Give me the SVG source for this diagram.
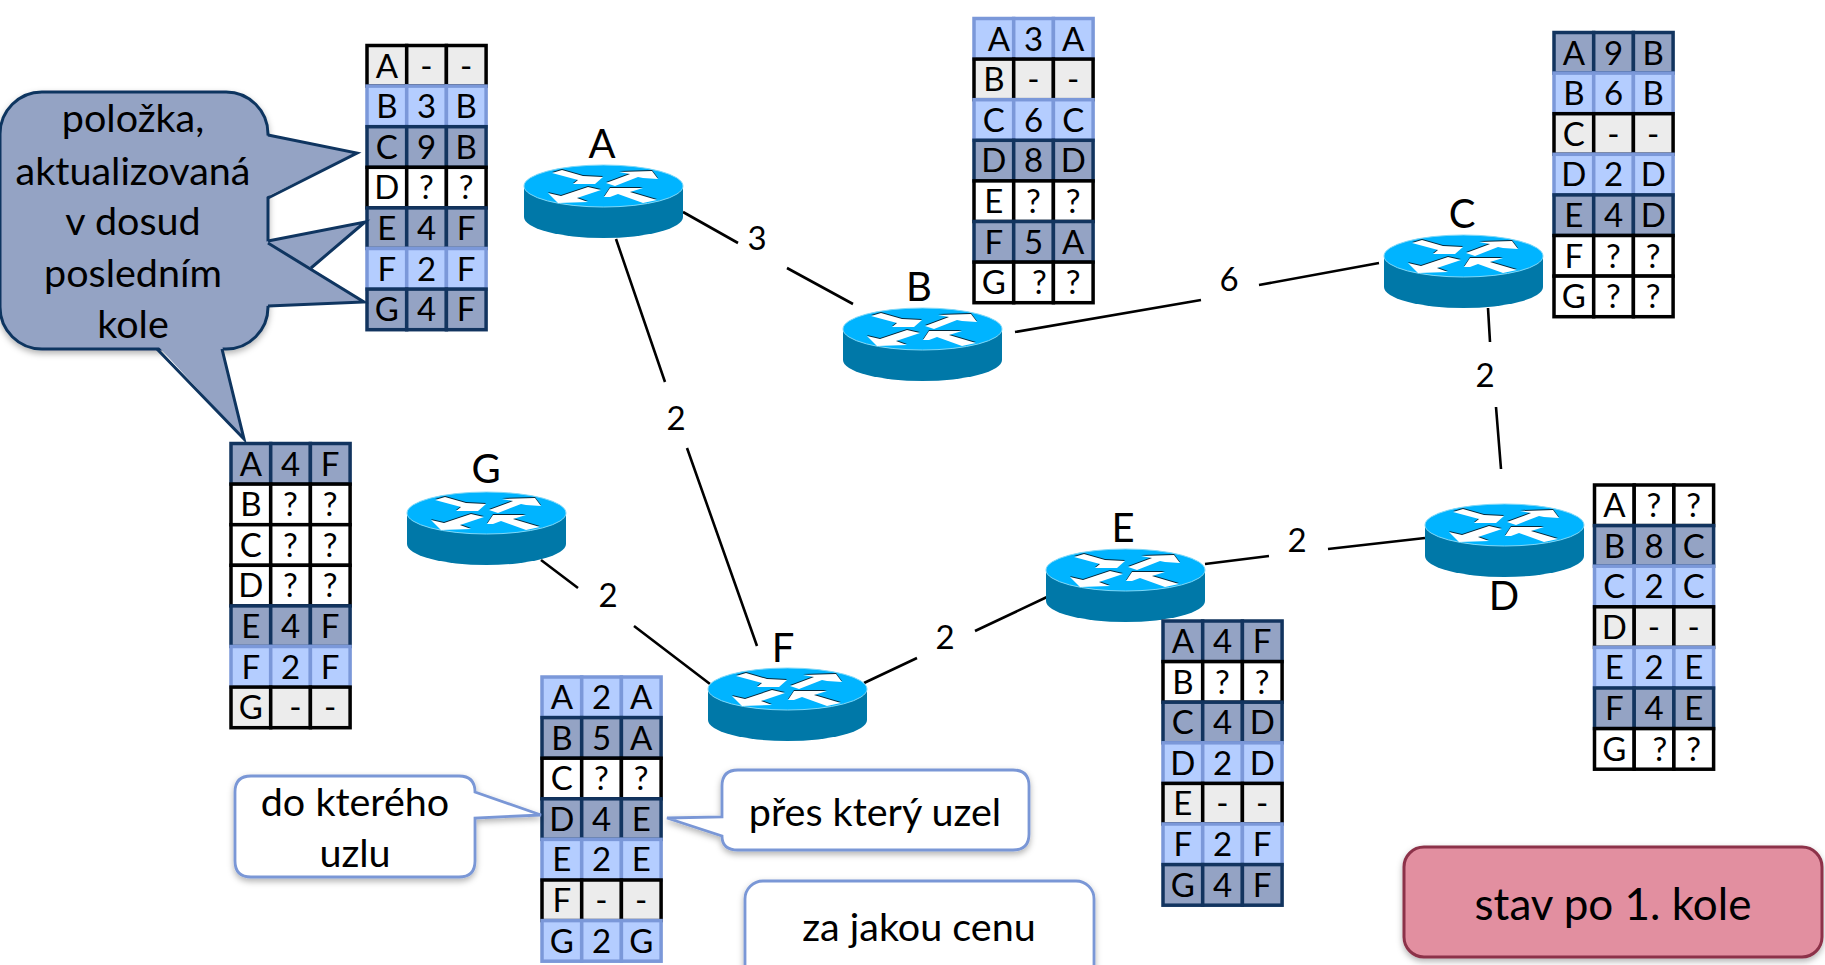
<svg xmlns="http://www.w3.org/2000/svg" width="1825" height="965" viewBox="0 0 1825 965">
<style>
text{font-family:"Lato","Liberation Sans",sans-serif;fill:#000;text-anchor:middle}
.t{font-size:33px}
.rl{font-size:40px}
.el{font-size:33px}
.co{font-size:39.5px}
.wc{font-size:39.5px}
.edge{stroke:#000;stroke-width:2.6;fill:none}
.w{fill:#fff;stroke:#000;stroke-width:3.5}
.g{fill:#ececec;stroke:#000;stroke-width:3.5}
.l{fill:#b4cdff;stroke:#7b98d9;stroke-width:3.5}
.d{fill:#94a3c4;stroke:#12345f;stroke-width:3.5}
.wbox{fill:#fff;stroke:#7a97d6;stroke-width:2.8}
.cof{fill:#94a3c4}
.cos{fill:none;stroke:#0f3560;stroke-width:3}
</style>
<defs>
<filter id="sh" x="-10%" y="-10%" width="120%" height="125%"><feDropShadow dx="0" dy="3" stdDeviation="3" flood-color="#000" flood-opacity="0.3"/></filter>
<g id="rw" class="w"><rect width="39.7" height="40.6"/><rect x="39.7" width="39.7" height="40.6"/><rect x="79.4" width="39.7" height="40.6"/></g>
<g id="rg" class="g"><rect width="39.7" height="40.6"/><rect x="39.7" width="39.7" height="40.6"/><rect x="79.4" width="39.7" height="40.6"/></g>
<g id="rl" class="l"><rect width="39.7" height="40.6"/><rect x="39.7" width="39.7" height="40.6"/><rect x="79.4" width="39.7" height="40.6"/></g>
<g id="rd" class="d"><rect width="39.7" height="40.6"/><rect x="39.7" width="39.7" height="40.6"/><rect x="79.4" width="39.7" height="40.6"/></g>
<g id="arrows">
<polygon points="28,8 38,5 59,11 79,12 71,19 49,19 54,15"/>
<polygon points="82,18 106,9 95,7 128,6 134,14 119,13 114,12 91,21"/>
<polygon points="24,28 37,31 64,22 77,25 53,33 64,37 34,38"/>
<polygon points="80,32 86,23 119,23 106,27 133,35 119,38 94,29 86,32"/>
</g>
<g id="router">
<path d="M0,21V52A79.5,21 0 0 0 159,52V21Z" fill="#0078a8"/>
<ellipse cx="79.5" cy="21" rx="79.5" ry="21" fill="#00b4ff" stroke="#7fd8f8" stroke-width="1"/>
<use href="#arrows" y="-1" fill="#06283a"/>
<use href="#arrows" fill="#fff"/>
</g>
</defs>
<g id="connectors">
<path class="edge" d="M683,212L738,243M787,268L853,304"/>
<path class="edge" d="M616,239L665,382M687,448L757,646"/>
<path class="edge" d="M1015,332L1201,300M1259,285L1379,263"/>
<path class="edge" d="M1488,308L1490,342M1496,407L1501,469"/>
<path class="edge" d="M1425,538L1328,549M1269,556L1205,564"/>
<path class="edge" d="M1047,597L975,631M917,658L864,683"/>
<path class="edge" d="M541,560L578,588M634,626L710,684"/>
<text class="el" x="757" y="250">3</text>
<text class="el" x="676" y="430">2</text>
<text class="el" x="1229" y="291">6</text>
<text class="el" x="1485" y="387">2</text>
<text class="el" x="1297" y="552">2</text>
<text class="el" x="945" y="649">2</text>
<text class="el" x="608" y="607">2</text>
</g>
<g id="node-A"><use href="#router" x="524" y="165"/><text class="rl" x="602" y="158">A</text></g>
<g id="node-B"><use href="#router" x="843" y="308"/><text class="rl" x="919" y="301">B</text></g>
<g id="node-C"><use href="#router" x="1384" y="235"/><text class="rl" x="1462" y="228">C</text></g>
<g id="node-D"><use href="#router" x="1425" y="504"/><text class="rl" x="1504" y="610">D</text></g>
<g id="node-E"><use href="#router" x="1046" y="549"/><text class="rl" x="1123" y="542">E</text></g>
<g id="node-F"><use href="#router" x="708" y="668"/><text class="rl" x="783" y="662">F</text></g>
<g id="node-G"><use href="#router" x="407" y="492"/><text class="rl" x="486" y="483">G</text></g>
<g id="table-A" transform="translate(367,45.5)">
<use href="#rg"/><use href="#rl" y="40.6"/><use href="#rd" y="81.2"/><use href="#rw" y="121.8"/><use href="#rd" y="162.4"/><use href="#rl" y="203"/><use href="#rd" y="243.6"/>
<text class="t" x="19.8" y="32">A</text><text class="t" x="59.5" y="32">-</text><text class="t" x="99.2" y="32">-</text>
<text class="t" x="19.8" y="72.6">B</text><text class="t" x="59.5" y="72.6">3</text><text class="t" x="99.2" y="72.6">B</text>
<text class="t" x="19.8" y="113.2">C</text><text class="t" x="59.5" y="113.2">9</text><text class="t" x="99.2" y="113.2">B</text>
<text class="t" x="19.8" y="153.8">D</text><text class="t" x="59.5" y="153.8">?</text><text class="t" x="99.2" y="153.8">?</text>
<text class="t" x="19.8" y="194.4">E</text><text class="t" x="59.5" y="194.4">4</text><text class="t" x="99.2" y="194.4">F</text>
<text class="t" x="19.8" y="235">F</text><text class="t" x="59.5" y="235">2</text><text class="t" x="99.2" y="235">F</text>
<text class="t" x="19.8" y="275.6">G</text><text class="t" x="59.5" y="275.6">4</text><text class="t" x="99.2" y="275.6">F</text>
</g>
<g id="table-B" transform="translate(974,18.5)">
<use href="#rl"/><use href="#rg" y="40.6"/><use href="#rl" y="81.2"/><use href="#rd" y="121.8"/><use href="#rw" y="162.4"/><use href="#rd" y="203"/><use href="#rw" y="243.6"/>
<text class="t" x="25" y="32">A</text><text class="t" x="59.5" y="32">3</text><text class="t" x="99.2" y="32">A</text>
<text class="t" x="19.8" y="72.6">B</text><text class="t" x="59.5" y="72.6">-</text><text class="t" x="99.2" y="72.6">-</text>
<text class="t" x="19.8" y="113.2">C</text><text class="t" x="59.5" y="113.2">6</text><text class="t" x="99.2" y="113.2">C</text>
<text class="t" x="19.8" y="153.8">D</text><text class="t" x="59.5" y="153.8">8</text><text class="t" x="99.2" y="153.8">D</text>
<text class="t" x="19.8" y="194.4">E</text><text class="t" x="59.5" y="194.4">?</text><text class="t" x="99.2" y="194.4">?</text>
<text class="t" x="19.8" y="235">F</text><text class="t" x="59.5" y="235">5</text><text class="t" x="99.2" y="235">A</text>
<text class="t" x="19.8" y="275.6">G</text><text class="t" x="65.5" y="275.6">?</text><text class="t" x="99.2" y="275.6">?</text>
</g>
<g id="table-C" transform="translate(1554,32.5)">
<use href="#rd"/><use href="#rl" y="40.6"/><use href="#rg" y="81.2"/><use href="#rl" y="121.8"/><use href="#rd" y="162.4"/><use href="#rw" y="203"/><use href="#rw" y="243.6"/>
<text class="t" x="19.8" y="32">A</text><text class="t" x="59.5" y="32">9</text><text class="t" x="99.2" y="32">B</text>
<text class="t" x="19.8" y="72.6">B</text><text class="t" x="59.5" y="72.6">6</text><text class="t" x="99.2" y="72.6">B</text>
<text class="t" x="19.8" y="113.2">C</text><text class="t" x="59.5" y="113.2">-</text><text class="t" x="99.2" y="113.2">-</text>
<text class="t" x="19.8" y="153.8">D</text><text class="t" x="59.5" y="153.8">2</text><text class="t" x="99.2" y="153.8">D</text>
<text class="t" x="19.8" y="194.4">E</text><text class="t" x="59.5" y="194.4">4</text><text class="t" x="99.2" y="194.4">D</text>
<text class="t" x="19.8" y="235">F</text><text class="t" x="59.5" y="235">?</text><text class="t" x="99.2" y="235">?</text>
<text class="t" x="19.8" y="275.6">G</text><text class="t" x="59.5" y="275.6">?</text><text class="t" x="99.2" y="275.6">?</text>
</g>
<g id="table-D" transform="translate(1594.5,485)">
<use href="#rw"/><use href="#rd" y="40.6"/><use href="#rl" y="81.2"/><use href="#rg" y="121.8"/><use href="#rl" y="162.4"/><use href="#rd" y="203"/><use href="#rw" y="243.6"/>
<text class="t" x="19.8" y="32">A</text><text class="t" x="59.5" y="32">?</text><text class="t" x="99.2" y="32">?</text>
<text class="t" x="19.8" y="72.6">B</text><text class="t" x="59.5" y="72.6">8</text><text class="t" x="99.2" y="72.6">C</text>
<text class="t" x="19.8" y="113.2">C</text><text class="t" x="59.5" y="113.2">2</text><text class="t" x="99.2" y="113.2">C</text>
<text class="t" x="19.8" y="153.8">D</text><text class="t" x="59.5" y="153.8">-</text><text class="t" x="99.2" y="153.8">-</text>
<text class="t" x="19.8" y="194.4">E</text><text class="t" x="59.5" y="194.4">2</text><text class="t" x="99.2" y="194.4">E</text>
<text class="t" x="19.8" y="235">F</text><text class="t" x="59.5" y="235">4</text><text class="t" x="99.2" y="235">E</text>
<text class="t" x="19.8" y="275.6">G</text><text class="t" x="65.5" y="275.6">?</text><text class="t" x="99.2" y="275.6">?</text>
</g>
<g id="table-E" transform="translate(1163,621)">
<use href="#rd"/><use href="#rw" y="40.6"/><use href="#rd" y="81.2"/><use href="#rl" y="121.8"/><use href="#rg" y="162.4"/><use href="#rl" y="203"/><use href="#rd" y="243.6"/>
<text class="t" x="19.8" y="32">A</text><text class="t" x="59.5" y="32">4</text><text class="t" x="99.2" y="32">F</text>
<text class="t" x="19.8" y="72.6">B</text><text class="t" x="59.5" y="72.6">?</text><text class="t" x="99.2" y="72.6">?</text>
<text class="t" x="19.8" y="113.2">C</text><text class="t" x="59.5" y="113.2">4</text><text class="t" x="99.2" y="113.2">D</text>
<text class="t" x="19.8" y="153.8">D</text><text class="t" x="59.5" y="153.8">2</text><text class="t" x="99.2" y="153.8">D</text>
<text class="t" x="19.8" y="194.4">E</text><text class="t" x="59.5" y="194.4">-</text><text class="t" x="99.2" y="194.4">-</text>
<text class="t" x="19.8" y="235">F</text><text class="t" x="59.5" y="235">2</text><text class="t" x="99.2" y="235">F</text>
<text class="t" x="19.8" y="275.6">G</text><text class="t" x="59.5" y="275.6">4</text><text class="t" x="99.2" y="275.6">F</text>
</g>
<g id="table-F" transform="translate(542,677)">
<use href="#rl"/><use href="#rd" y="40.6"/><use href="#rw" y="81.2"/><use href="#rd" y="121.8"/><use href="#rl" y="162.4"/><use href="#rg" y="203"/><use href="#rl" y="243.6"/>
<text class="t" x="19.8" y="32">A</text><text class="t" x="59.5" y="32">2</text><text class="t" x="99.2" y="32">A</text>
<text class="t" x="19.8" y="72.6">B</text><text class="t" x="59.5" y="72.6">5</text><text class="t" x="99.2" y="72.6">A</text>
<text class="t" x="19.8" y="113.2">C</text><text class="t" x="59.5" y="113.2">?</text><text class="t" x="99.2" y="113.2">?</text>
<text class="t" x="19.8" y="153.8">D</text><text class="t" x="59.5" y="153.8">4</text><text class="t" x="99.2" y="153.8">E</text>
<text class="t" x="19.8" y="194.4">E</text><text class="t" x="59.5" y="194.4">2</text><text class="t" x="99.2" y="194.4">E</text>
<text class="t" x="19.8" y="235">F</text><text class="t" x="59.5" y="235">-</text><text class="t" x="99.2" y="235">-</text>
<text class="t" x="19.8" y="275.6">G</text><text class="t" x="59.5" y="275.6">2</text><text class="t" x="99.2" y="275.6">G</text>
</g>
<g id="table-G" transform="translate(231,443.5)">
<use href="#rd"/><use href="#rw" y="40.6"/><use href="#rw" y="81.2"/><use href="#rw" y="121.8"/><use href="#rd" y="162.4"/><use href="#rl" y="203"/><use href="#rg" y="243.6"/>
<text class="t" x="19.8" y="32">A</text><text class="t" x="59.5" y="32">4</text><text class="t" x="99.2" y="32">F</text>
<text class="t" x="19.8" y="72.6">B</text><text class="t" x="59.5" y="72.6">?</text><text class="t" x="99.2" y="72.6">?</text>
<text class="t" x="19.8" y="113.2">C</text><text class="t" x="59.5" y="113.2">?</text><text class="t" x="99.2" y="113.2">?</text>
<text class="t" x="19.8" y="153.8">D</text><text class="t" x="59.5" y="153.8">?</text><text class="t" x="99.2" y="153.8">?</text>
<text class="t" x="19.8" y="194.4">E</text><text class="t" x="59.5" y="194.4">4</text><text class="t" x="99.2" y="194.4">F</text>
<text class="t" x="19.8" y="235">F</text><text class="t" x="59.5" y="235">2</text><text class="t" x="99.2" y="235">F</text>
<text class="t" x="19.8" y="275.6">G</text><text class="t" x="64.5" y="275.6">-</text><text class="t" x="99.2" y="275.6">-</text>
</g>
<g id="callout-polozka">
<rect class="cof" x="0" y="92" width="268" height="257" rx="42" stroke="#0f3560" stroke-width="3" filter="url(#sh)"/>
<polygon class="cof" points="264,135 357,153 264,198"/>
<polyline class="cos" points="268,135 357,153 268,198"/>
<polygon class="cof" points="264,242 365,222 311,268 364,302 264,306"/>
<polyline class="cos" points="268,241 365,222 311,268"/>
<polyline class="cos" points="268,243 364,302 268,306"/>
<polygon class="cof" points="157,345 222,345 244,439"/>
<polyline class="cos" points="157,349 244,439 222,349"/>
<text class="co" x="133" y="132">položka,</text>
<text class="co" x="133" y="185">aktualizovaná</text>
<text class="co" x="133" y="235">v dosud</text>
<text class="co" x="133" y="287">posledním</text>
<text class="co" x="133" y="338">kole</text>
</g>
<g id="callout-do-ktereho">
<path class="wbox" filter="url(#sh)" d="M251,776H459Q475,776 475,792L541,815L475,818V861Q475,877 459,877H251Q235,877 235,861V792Q235,776 251,776Z"/>
<text class="wc" x="355" y="816">do kterého</text>
<text class="wc" x="355" y="867">uzlu</text>
</g>
<g id="callout-pres">
<path class="wbox" filter="url(#sh)" d="M738,770H1013Q1029,770 1029,786V834Q1029,850 1013,850H738Q722,850 722,836L667,818L722,817V786Q722,770 738,770Z"/>
<text class="wc" x="875" y="826">přes který uzel</text>
</g>
<g id="callout-cena">
<rect class="wbox" filter="url(#sh)" x="745" y="881" width="349" height="110" rx="18"/>
<text class="wc" x="919" y="941">za jakou cenu</text>
</g>
<g id="state-box">
<rect x="1404" y="847" width="418" height="110" rx="20" fill="#e28fa0" stroke="#8c3048" stroke-width="3" filter="url(#sh)"/>
<text x="1613" y="920" font-size="44">stav po 1. kole</text>
</g>
</svg>
